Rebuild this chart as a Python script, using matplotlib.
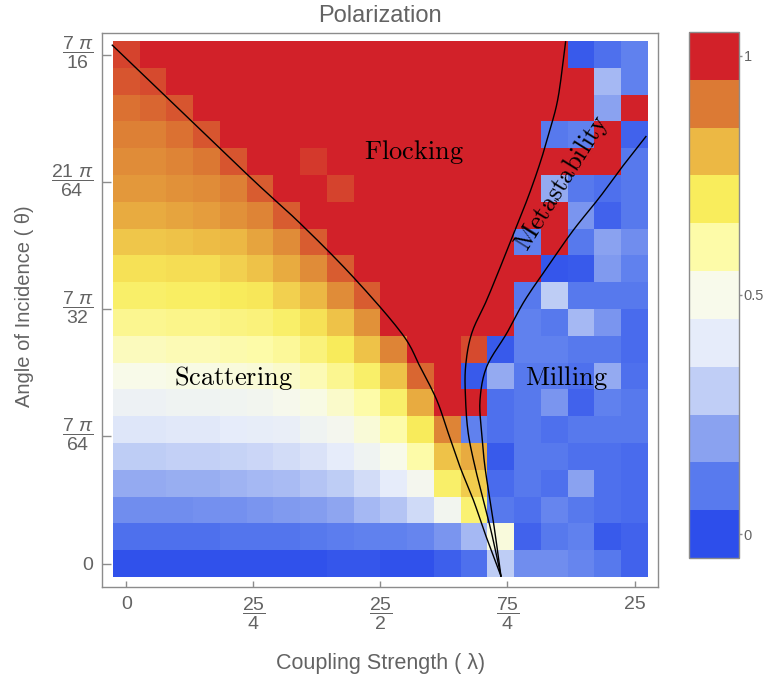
import numpy as np
import matplotlib
matplotlib.use("Agg")
import matplotlib.pyplot as plt
from matplotlib.colors import LinearSegmentedColormap, ListedColormap, BoundaryNorm
from matplotlib.cm import ScalarMappable
from matplotlib.transforms import ScaledTranslation

plt.rcParams['font.family'] = ['Liberation Sans', 'DejaVu Sans']
plt.rcParams['mathtext.fontset'] = 'custom'
plt.rcParams['mathtext.rm'] = 'Liberation Sans'
plt.rcParams['mathtext.it'] = 'Liberation Sans:italic'
plt.rcParams['mathtext.bf'] = 'Liberation Sans:bold'

# ---------------- data ----------------
theta_max = 7 * np.pi / 16
coupling = np.linspace(0, 25, 20)          # lambda values (columns)
angle = np.linspace(0, theta_max, 20)      # theta values (rows)

# polarization, rows listed from top (theta = 7pi/16) to bottom (theta = 0)
polarization_top_down = [
    [0.96, 1, 1, 1, 1, 1, 1, 1, 1, 1, 1, 1, 1, 1, 1, 1, 1, 0.03, 0.08, 0.12],
    [0.94, 0.95, 1, 1, 1, 1, 1, 1, 1, 1, 1, 1, 1, 1, 1, 1, 1, 1, 0.25, 0.12],
    [0.91, 0.92, 0.94, 1, 1, 1, 1, 1, 1, 1, 1, 1, 1, 1, 1, 1, 1, 1, 0.2, 1],
    [0.89, 0.89, 0.91, 0.94, 1, 1, 1, 1, 1, 1, 1, 1, 1, 1, 1, 1, 0.1, 0.12, 1, 0.05],
    [0.87, 0.87, 0.88, 0.9, 0.94, 1, 1, 0.97, 1, 1, 1, 1, 1, 1, 1, 1, 1, 1, 1, 0.1],
    [0.85, 0.85, 0.86, 0.87, 0.89, 0.93, 1, 1, 0.96, 1, 1, 1, 1, 1, 1, 1, 0.22, 0.1, 0.08, 0.1],
    [0.82, 0.82, 0.83, 0.84, 0.86, 0.88, 0.93, 1, 1, 1, 1, 1, 1, 1, 1, 1, 1, 0.17, 0.05, 0.1],
    [0.77, 0.77, 0.78, 0.79, 0.8, 0.83, 0.87, 0.93, 1, 1, 1, 1, 1, 1, 1, 0.12, 1, 0.1, 0.2, 0.15],
    [0.72, 0.72, 0.73, 0.73, 0.75, 0.78, 0.82, 0.87, 0.93, 1, 1, 1, 1, 1, 1, 1, 0.02, 0.03, 0.18, 0.12],
    [0.68, 0.68, 0.69, 0.69, 0.7, 0.71, 0.75, 0.8, 0.87, 0.93, 1, 1, 1, 1, 1, 0.1, 0.3, 0.1, 0.1, 0.1],
    [0.63, 0.63, 0.64, 0.64, 0.65, 0.66, 0.68, 0.72, 0.78, 0.86, 1, 1, 1, 1, 1, 0.12, 0.1, 0.25, 0.17, 0.07],
    [0.57, 0.57, 0.58, 0.58, 0.59, 0.6, 0.62, 0.66, 0.7, 0.78, 0.88, 1, 1, 0.95, 0.03, 0.12, 0.12, 0.1, 0.1, 0.07],
    [0.5, 0.5, 0.51, 0.51, 0.52, 0.53, 0.55, 0.58, 0.63, 0.68, 0.78, 0.92, 1, 0.03, 0.22, 0.1, 0.1, 0.08, 0.22, 0.08],
    [0.44, 0.44, 0.45, 0.45, 0.46, 0.47, 0.49, 0.51, 0.55, 0.6, 0.68, 0.82, 1, 1, 0.08, 0.1, 0.17, 0.05, 0.12, 0.1],
    [0.38, 0.38, 0.39, 0.39, 0.4, 0.41, 0.42, 0.45, 0.48, 0.53, 0.6, 0.7, 0.88, 0.12, 0.08, 0.1, 0.08, 0.1, 0.1, 0.1],
    [0.3, 0.3, 0.31, 0.31, 0.32, 0.33, 0.35, 0.37, 0.4, 0.45, 0.5, 0.6, 0.78, 0.82, 0.03, 0.1, 0.1, 0.08, 0.08, 0.07],
    [0.22, 0.22, 0.23, 0.23, 0.24, 0.25, 0.26, 0.28, 0.3, 0.35, 0.4, 0.48, 0.68, 0.76, 0.07, 0.1, 0.08, 0.2, 0.08, 0.07],
    [0.15, 0.15, 0.15, 0.16, 0.16, 0.17, 0.18, 0.19, 0.21, 0.25, 0.28, 0.34, 0.47, 0.67, 0.1, 0.08, 0.13, 0.1, 0.08, 0.07],
    [0.08, 0.08, 0.08, 0.08, 0.09, 0.09, 0.09, 0.1, 0.11, 0.12, 0.12, 0.13, 0.17, 0.25, 0.52, 0.05, 0.1, 0.12, 0.03, 0.05],
    [0.01, 0.01, 0.01, 0.01, 0.01, 0.01, 0.01, 0.01, 0.02, 0.02, 0.01, 0.01, 0.04, 0.08, 0.3, 0.15, 0.15, 0.13, 0.1, 0.05],
]

# phase boundary curves (lambda, theta)
scatter_lambda = [-0.69, 5.92, 8.54, 11.15, 13.55, 14.45, 15.27, 15.84, 16.41, 17.07, 17.64, 18.43]
scatter_theta = [1.401, 1.053, 0.920, 0.775, 0.622, 0.532, 0.442, 0.352, 0.262, 0.172, 0.082, -0.034]

meta_upper_lambda = [21.61, 21.25, 20.84, 20.35, 19.77, 19.12, 18.47, 17.73, 16.99, 16.69, 16.69,
                     16.82, 17.15, 17.56, 17.97, 18.43]
meta_upper_theta = [1.410, 1.262, 1.172, 1.082, 0.991, 0.901, 0.811, 0.712, 0.622, 0.532, 0.442,
                    0.352, 0.262, 0.172, 0.082, -0.034]

meta_lower_lambda = [25.56, 24.53, 23.30, 21.99, 20.84, 19.61, 18.71, 17.73, 17.40, 17.48, 17.64,
                     17.89, 18.14, 18.43]
meta_lower_theta = [1.154, 1.082, 0.991, 0.901, 0.811, 0.712, 0.622, 0.532, 0.442, 0.352, 0.262,
                    0.172, 0.082, -0.034]

# colour legend swatches (values 0, 0.1, ..., 1)
legend_values = [0.0, 0.1, 0.2, 0.3, 0.4, 0.5, 0.6, 0.7, 0.8, 0.9, 1.0]
legend_colors = ['#2d4eeb', '#587aee', '#8aa2f0', '#c0cef6', '#e6ecfa', '#f8faeb',
                 '#fdfba8', '#f9ed5c', '#ecb844', '#dc7a34', '#d22129']

x_ticks = [0, 25 / 4, 25 / 2, 75 / 4, 25]
x_tick_labels = ['0', r'$\dfrac{25}{4}$', r'$\dfrac{25}{2}$', r'$\dfrac{75}{4}$', '25']
y_ticks = [0, 7 * np.pi / 64, 7 * np.pi / 32, 21 * np.pi / 64, 7 * np.pi / 16]
y_tick_labels = ['0', r'$\dfrac{7\ \pi}{64}$', r'$\dfrac{7\ \pi}{32}$',
                 r'$\dfrac{21\ \pi}{64}$', r'$\dfrac{7\ \pi}{16}$']


def smooth(xs, ys, n=12):
    """Catmull-Rom curve through the read points (drawing helper only)."""
    p = np.column_stack([xs, ys]).astype(float)
    p = np.vstack([2 * p[0] - p[1], p, 2 * p[-1] - p[-2]])
    out = []
    t = np.linspace(0, 1, n, endpoint=False)[:, None]
    for i in range(1, len(p) - 2):
        p0, p1, p2, p3 = p[i - 1], p[i], p[i + 1], p[i + 2]
        seg = 0.5 * ((2 * p1) + (-p0 + p2) * t + (2 * p0 - 5 * p1 + 4 * p2 - p3) * t ** 2
                     + (-p0 + 3 * p1 - 3 * p2 + p3) * t ** 3)
        out.append(seg)
    out.append(p[-2][None, :])
    out = np.vstack(out)
    return out[:, 0], out[:, 1]


# ---------------- figure ----------------
W, H = 764, 684
fig = plt.figure(figsize=(W / 100, H / 100), dpi=100)
ax = fig.add_axes([101.7 / W, 1 - 586.7 / H, (658.3 - 101.7) / W, (586.7 - 33) / H])

Z = np.array(polarization_top_down)[::-1]
assert Z.shape == (20, 20)
dx = coupling[1] - coupling[0]
dy = angle[1] - angle[0]

heat_cmap = LinearSegmentedColormap.from_list('pol', list(zip(legend_values, legend_colors)))
img = ax.imshow(Z, cmap=heat_cmap, vmin=0, vmax=1, origin='lower', aspect='auto',
                interpolation='nearest',
                extent=[coupling[0] - dx / 2, coupling[-1] + dx / 2,
                        angle[0] - dy / 2, angle[-1] + dy / 2])

for xs, ys in [(scatter_lambda, scatter_theta), (meta_upper_lambda, meta_upper_theta),
               (meta_lower_lambda, meta_lower_theta)]:
    sx, sy = smooth(xs, ys)
    ax.plot(sx, sy, color='black', lw=1.0)

ax.set_xlim(-1.21, 26.17)
ax.set_ylim(-0.0627, 1.4339)

gray = '#8c8c8c'
txtgray = '#636363'
for s in ax.spines.values():
    s.set_color(gray)
    s.set_linewidth(1.0)

ax.set_xticks(x_ticks)
ax.set_xticklabels(x_tick_labels)
ax.set_yticks(y_ticks)
ax.set_yticklabels(y_tick_labels)
ax.tick_params(axis='x', direction='in', length=4.5, width=1, color=gray,
               labelsize=14, labelcolor=txtgray, pad=7)
ax.tick_params(axis='y', direction='in', length=6.5, width=1, color=gray,
               labelsize=14, labelcolor=txtgray, pad=6)
shift_up = ScaledTranslation(0, 8 / 100, fig.dpi_scale_trans)
for lab in ax.get_yticklabels()[1:]:
    lab.set_transform(lab.get_transform() + shift_up)

# region labels
ax.text(14.15, 1.112, r'$\mathrm{Flocking}$', math_fontfamily='cm', fontsize=19,
        ha='center', va='center', color='black')
ax.text(5.25, 0.501, r'$\mathrm{Scattering}$', math_fontfamily='cm', fontsize=19,
        ha='center', va='center', color='black')
ax.text(21.63, 0.501, r'$\mathrm{Milling}$', math_fontfamily='cm', fontsize=19,
        ha='center', va='center', color='black')
ax.text(21.43, 1.028, r'$\mathrm{Metastability}$', math_fontfamily='cm', fontsize=19,
        ha='center', va='center', rotation=58, rotation_mode='anchor', color='black')

fig.text(380 / W, 1 - 22.5 / H, 'Polarization', fontsize=17, color=txtgray,
         ha='center', va='baseline')
fig.text(381 / W, 1 - 664 / H, 'Coupling Strength ( \u03bb)', fontsize=15.5, color=txtgray,
         ha='center', va='center')
fig.text(24.5 / W, 1 - 306 / H, 'Angle of Incidence ( \u03b8)', fontsize=14.5, color=txtgray,
         ha='center', va='center', rotation=90)

# colour legend
cax = fig.add_axes([689 / W, 1 - 558 / H, 50 / W, 526 / H])
bounds = [v - 0.05 for v in legend_values] + [legend_values[-1] + 0.05]
sm = ScalarMappable(norm=BoundaryNorm(bounds, len(legend_colors)), cmap=ListedColormap(legend_colors))
cb = fig.colorbar(sm, cax=cax, ticks=[0, 0.5, 1])
cb.minorticks_off()
cb.ax.set_yticklabels(['0', '0.5', '1'])
cb.outline.set_edgecolor(gray)
cb.outline.set_linewidth(1.0)
cb.ax.tick_params(direction='out', length=2.5, width=1, color=gray, labelsize=10.5,
                  labelcolor=txtgray, pad=1)

fig.savefig('out.png', dpi=100)
